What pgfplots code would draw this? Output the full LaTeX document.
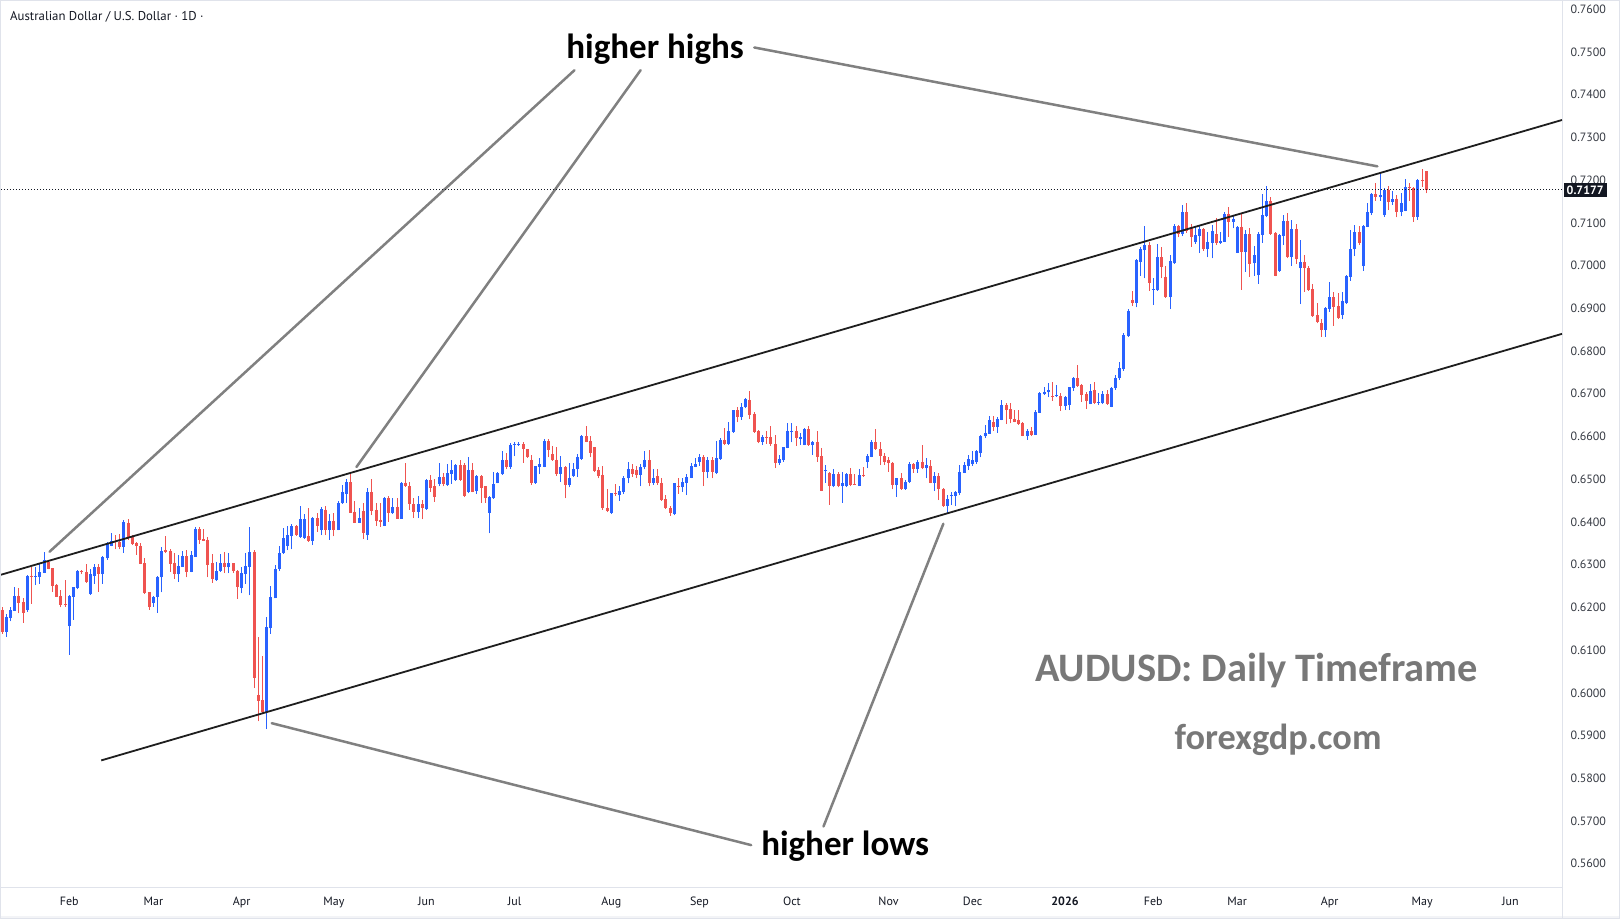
\documentclass[border=0pt]{standalone}
\usepackage{pgfplots}
\pgfplotsset{compat=1.18}
\usepackage{pgfplotstable}
\usepackage{fontspec}
\setmainfont{PT Sans}
\newfontfamily\calib{Carlito}
\definecolor{upc}{HTML}{2962FF}
\definecolor{dnc}{HTML}{EF5350}
\definecolor{annc}{HTML}{808080}
\definecolor{framec}{HTML}{E0E3EB}
\definecolor{txtc}{HTML}{131722}
\definecolor{wmc}{HTML}{787878}
\definecolor{trendc}{HTML}{1E1E1E}

\pgfplotstableread{
i o h l c
-16 0.6194 0.6200 0.6138 0.6143
-15 0.6143 0.6185 0.6131 0.6178
-14 0.6176 0.6202 0.6167 0.6194
-13 0.6192 0.6247 0.6192 0.6227
-12 0.6227 0.6245 0.6186 0.6211
-11 0.6213 0.6221 0.6164 0.6186
-10 0.6194 0.6275 0.6190 0.6273
-9 0.6274 0.6294 0.6208 0.6272
-8 0.6272 0.6294 0.6252 0.6274
-7 0.6272 0.6302 0.6255 0.6283
-6 0.6281 0.6330 0.6280 0.6311
-5 0.6307 0.6311 0.6289 0.6291
-4 0.6292 0.6293 0.6237 0.6251
-3 0.6253 0.6255 0.6224 0.6225
-2 0.6227 0.6241 0.6200 0.6206
-1 0.6207 0.6263 0.6202 0.6205
0 0.6156 0.6228 0.6089 0.6227
1 0.6225 0.6248 0.6171 0.6247
2 0.6245 0.6288 0.6242 0.6286
3 0.6286 0.6288 0.6278 0.6284
4 0.6283 0.6302 0.6258 0.6260
5 0.6231 0.6289 0.6230 0.6278
6 0.6273 0.6302 0.6255 0.6295
7 0.6295 0.6302 0.6236 0.6278
8 0.6278 0.6320 0.6255 0.6319
9 0.6315 0.6354 0.6311 0.6350
10 0.6344 0.6373 0.6343 0.6356
11 0.6356 0.6369 0.6336 0.6352
12 0.6354 0.6372 0.6336 0.6342
13 0.6342 0.6405 0.6328 0.6400
14 0.6398 0.6406 0.6358 0.6363
15 0.6366 0.6370 0.6346 0.6348
16 0.6350 0.6354 0.6323 0.6344
17 0.6344 0.6350 0.6301 0.6302
18 0.6303 0.6315 0.6231 0.6233
19 0.6236 0.6237 0.6194 0.6202
20 0.6210 0.6226 0.6202 0.6225
21 0.6224 0.6273 0.6188 0.6270
22 0.6270 0.6341 0.6235 0.6333
23 0.6334 0.6366 0.6327 0.6330
24 0.6332 0.6336 0.6283 0.6302
25 0.6305 0.6328 0.6266 0.6277
26 0.6277 0.6323 0.6260 0.6297
27 0.6295 0.6331 0.6294 0.6320
28 0.6320 0.6334 0.6270 0.6283
29 0.6283 0.6333 0.6282 0.6323
30 0.6319 0.6387 0.6318 0.6383
31 0.6383 0.6387 0.6348 0.6358
32 0.6359 0.6383 0.6355 0.6356
33 0.6358 0.6364 0.6270 0.6299
34 0.6303 0.6325 0.6258 0.6266
35 0.6263 0.6306 0.6262 0.6286
36 0.6285 0.6325 0.6283 0.6305
37 0.6305 0.6330 0.6280 0.6294
38 0.6294 0.6327 0.6280 0.6305
39 0.6303 0.6304 0.6280 0.6284
40 0.6286 0.6288 0.6220 0.6247
41 0.6245 0.6295 0.6233 0.6280
42 0.6278 0.6327 0.6255 0.6297
43 0.6295 0.6387 0.6228 0.6330
44 0.6330 0.6334 0.6011 0.6034
45 0.5995 0.6131 0.5933 0.5982
46 0.5983 0.6086 0.5953 0.5954
47 0.5954 0.6177 0.5915 0.6153
48 0.6151 0.6249 0.6138 0.6224
49 0.6221 0.6299 0.6221 0.6291
50 0.6291 0.6344 0.6285 0.6328
51 0.6328 0.6385 0.6326 0.6362
52 0.6344 0.6391 0.6334 0.6369
53 0.6367 0.6395 0.6336 0.6391
54 0.6391 0.6393 0.6368 0.6369
55 0.6364 0.6437 0.6363 0.6408
56 0.6362 0.6419 0.6361 0.6408
57 0.6366 0.6432 0.6354 0.6356
58 0.6356 0.6412 0.6346 0.6409
59 0.6409 0.6422 0.6377 0.6391
60 0.6381 0.6436 0.6369 0.6430
61 0.6429 0.6437 0.6369 0.6381
62 0.6381 0.6419 0.6358 0.6403
63 0.6403 0.6420 0.6366 0.6381
64 0.6381 0.6450 0.6380 0.6444
65 0.6444 0.6487 0.6443 0.6469
66 0.6465 0.6500 0.6444 0.6493
67 0.6493 0.6516 0.6421 0.6422
68 0.6424 0.6448 0.6397 0.6398
69 0.6398 0.6432 0.6397 0.6409
70 0.6426 0.6444 0.6359 0.6373
71 0.6369 0.6479 0.6358 0.6470
72 0.6470 0.6501 0.6416 0.6426
73 0.6428 0.6444 0.6391 0.6403
74 0.6405 0.6444 0.6389 0.6401
75 0.6391 0.6459 0.6390 0.6456
76 0.6456 0.6461 0.6401 0.6422
77 0.6422 0.6455 0.6419 0.6434
78 0.6436 0.6457 0.6407 0.6408
79 0.6408 0.6494 0.6407 0.6492
80 0.6492 0.6539 0.6482 0.6483
81 0.6484 0.6494 0.6428 0.6442
82 0.6442 0.6455 0.6409 0.6424
83 0.6424 0.6461 0.6409 0.6442
84 0.6442 0.6451 0.6406 0.6432
85 0.6430 0.6500 0.6429 0.6497
86 0.6497 0.6510 0.6470 0.6479
87 0.6483 0.6500 0.6447 0.6459
88 0.6489 0.6539 0.6483 0.6506
89 0.6506 0.6514 0.6483 0.6488
90 0.6486 0.6536 0.6485 0.6514
91 0.6512 0.6545 0.6489 0.6522
92 0.6498 0.6535 0.6496 0.6533
93 0.6533 0.6546 0.6496 0.6498
94 0.6533 0.6537 0.6458 0.6461
95 0.6471 0.6553 0.6467 0.6522
96 0.6522 0.6539 0.6469 0.6471
97 0.6473 0.6510 0.6465 0.6508
98 0.6508 0.6510 0.6445 0.6479
99 0.6483 0.6484 0.6445 0.6455
100 0.6422 0.6460 0.6373 0.6459
101 0.6455 0.6518 0.6454 0.6489
102 0.6491 0.6518 0.6490 0.6514
103 0.6512 0.6565 0.6511 0.6545
104 0.6545 0.6562 0.6523 0.6528
105 0.6529 0.6584 0.6525 0.6580
106 0.6581 0.6588 0.6554 0.6583
107 0.6581 0.6588 0.6578 0.6583
108 0.6582 0.6586 0.6539 0.6570
109 0.6570 0.6571 0.6550 0.6553
110 0.6545 0.6557 0.6487 0.6490
111 0.6490 0.6532 0.6489 0.6531
112 0.6529 0.6549 0.6512 0.6536
113 0.6529 0.6593 0.6528 0.6589
114 0.6589 0.6593 0.6551 0.6568
115 0.6559 0.6578 0.6543 0.6544
116 0.6545 0.6575 0.6508 0.6512
117 0.6512 0.6554 0.6494 0.6528
118 0.6529 0.6530 0.6455 0.6487
119 0.6487 0.6537 0.6481 0.6502
120 0.6508 0.6537 0.6506 0.6523
121 0.6523 0.6559 0.6506 0.6551
122 0.6547 0.6604 0.6545 0.6601
123 0.6601 0.6625 0.6586 0.6588
124 0.6590 0.6601 0.6551 0.6562
125 0.6575 0.6576 0.6518 0.6520
126 0.6522 0.6528 0.6502 0.6508
127 0.6510 0.6530 0.6428 0.6432
128 0.6432 0.6476 0.6423 0.6425
129 0.6422 0.6468 0.6419 0.6467
130 0.6467 0.6489 0.6461 0.6465
131 0.6463 0.6483 0.6450 0.6473
132 0.6471 0.6508 0.6465 0.6502
133 0.6502 0.6541 0.6490 0.6523
134 0.6523 0.6536 0.6506 0.6512
135 0.6522 0.6531 0.6502 0.6510
136 0.6510 0.6536 0.6483 0.6528
137 0.6528 0.6567 0.6523 0.6545
138 0.6545 0.6568 0.6483 0.6492
139 0.6492 0.6523 0.6487 0.6504
140 0.6508 0.6523 0.6487 0.6490
141 0.6490 0.6502 0.6450 0.6451
142 0.6453 0.6463 0.6430 0.6432
143 0.6433 0.6437 0.6414 0.6420
144 0.6419 0.6492 0.6416 0.6490
145 0.6485 0.6504 0.6466 0.6481
146 0.6481 0.6504 0.6471 0.6494
147 0.6492 0.6512 0.6463 0.6506
148 0.6504 0.6537 0.6502 0.6531
149 0.6529 0.6549 0.6528 0.6536
150 0.6541 0.6559 0.6531 0.6551
151 0.6551 0.6557 0.6484 0.6518
152 0.6518 0.6551 0.6502 0.6544
153 0.6544 0.6551 0.6502 0.6518
154 0.6514 0.6590 0.6512 0.6549
155 0.6547 0.6596 0.6545 0.6592
156 0.6592 0.6619 0.6580 0.6583
157 0.6583 0.6635 0.6580 0.6613
158 0.6611 0.6662 0.6609 0.6661
159 0.6661 0.6668 0.6633 0.6645
160 0.6645 0.6678 0.6639 0.6670
161 0.6668 0.6689 0.6666 0.6687
162 0.6686 0.6707 0.6640 0.6650
163 0.6653 0.6658 0.6609 0.6611
164 0.6614 0.6615 0.6584 0.6588
165 0.6588 0.6604 0.6580 0.6598
166 0.6599 0.6614 0.6583 0.6597
167 0.6598 0.6625 0.6578 0.6583
168 0.6583 0.6604 0.6526 0.6539
169 0.6539 0.6557 0.6533 0.6547
170 0.6544 0.6576 0.6541 0.6575
171 0.6573 0.6631 0.6572 0.6613
172 0.6611 0.6631 0.6586 0.6613
173 0.6613 0.6625 0.6578 0.6596
174 0.6594 0.6609 0.6580 0.6598
175 0.6580 0.6619 0.6579 0.6617
176 0.6617 0.6625 0.6578 0.6580
177 0.6580 0.6590 0.6557 0.6588
178 0.6588 0.6614 0.6541 0.6553
179 0.6554 0.6572 0.6472 0.6473
180 0.6519 0.6533 0.6492 0.6521
181 0.6514 0.6516 0.6440 0.6483
182 0.6483 0.6523 0.6481 0.6512
183 0.6512 0.6518 0.6481 0.6483
184 0.6483 0.6518 0.6445 0.6490
185 0.6483 0.6514 0.6481 0.6512
186 0.6512 0.6526 0.6483 0.6487
187 0.6489 0.6512 0.6486 0.6487
188 0.6484 0.6523 0.6484 0.6510
189 0.6510 0.6528 0.6506 0.6508
190 0.6541 0.6559 0.6526 0.6554
191 0.6553 0.6592 0.6551 0.6586
192 0.6586 0.6617 0.6569 0.6570
193 0.6570 0.6586 0.6533 0.6554
194 0.6554 0.6561 0.6533 0.6541
195 0.6545 0.6551 0.6518 0.6537
196 0.6539 0.6540 0.6476 0.6487
197 0.6487 0.6504 0.6459 0.6502
198 0.6502 0.6514 0.6475 0.6476
199 0.6476 0.6497 0.6475 0.6494
200 0.6494 0.6541 0.6492 0.6536
201 0.6536 0.6537 0.6515 0.6523
202 0.6523 0.6544 0.6515 0.6540
203 0.6540 0.6580 0.6523 0.6526
204 0.6526 0.6549 0.6502 0.6533
205 0.6531 0.6544 0.6490 0.6492
206 0.6492 0.6518 0.6473 0.6508
207 0.6508 0.6514 0.6451 0.6476
208 0.6478 0.6479 0.6436 0.6437
209 0.6437 0.6463 0.6420 0.6453
210 0.6462 0.6469 0.6440 0.6464
211 0.6461 0.6473 0.6437 0.6471
212 0.6467 0.6533 0.6463 0.6518
213 0.6515 0.6541 0.6514 0.6533
214 0.6531 0.6557 0.6522 0.6547
215 0.6536 0.6567 0.6531 0.6544
216 0.6541 0.6568 0.6536 0.6565
217 0.6561 0.6604 0.6551 0.6601
218 0.6600 0.6627 0.6596 0.6609
219 0.6607 0.6648 0.6606 0.6639
220 0.6633 0.6648 0.6614 0.6622
221 0.6622 0.6646 0.6609 0.6640
222 0.6639 0.6685 0.6638 0.6674
223 0.6674 0.6678 0.6629 0.6662
224 0.6664 0.6678 0.6631 0.6640
225 0.6640 0.6661 0.6633 0.6635
226 0.6639 0.6661 0.6627 0.6629
227 0.6631 0.6633 0.6600 0.6601
228 0.6601 0.6617 0.6592 0.6613
229 0.6612 0.6623 0.6601 0.6604
230 0.6604 0.6661 0.6603 0.6658
231 0.6656 0.6705 0.6655 0.6702
232 0.6700 0.6717 0.6698 0.6705
233 0.6703 0.6726 0.6692 0.6710
234 0.6695 0.6728 0.6684 0.6692
235 0.6694 0.6721 0.6692 0.6697
236 0.6695 0.6701 0.6660 0.6671
237 0.6671 0.6694 0.6662 0.6693
238 0.6674 0.6717 0.6662 0.6715
239 0.6713 0.6740 0.6707 0.6736
240 0.6736 0.6767 0.6717 0.6718
241 0.6720 0.6723 0.6681 0.6697
242 0.6699 0.6705 0.6664 0.6684
243 0.6676 0.6723 0.6675 0.6707
244 0.6709 0.6728 0.6676 0.6679
245 0.6679 0.6701 0.6674 0.6681
246 0.6679 0.6707 0.6676 0.6699
247 0.6699 0.6709 0.6674 0.6676
248 0.6670 0.6717 0.6668 0.6713
249 0.6713 0.6744 0.6710 0.6736
250 0.6736 0.6775 0.6732 0.6760
251 0.6757 0.6843 0.6754 0.6838
252 0.6835 0.6898 0.6834 0.6894
253 0.6920 0.6941 0.6905 0.6913
254 0.6913 0.7015 0.6902 0.7012
255 0.7009 0.7043 0.6976 0.7039
256 0.7036 0.7093 0.6970 0.7048
257 0.7048 0.7056 0.6941 0.6960
258 0.6943 0.6970 0.6908 0.6946
259 0.6943 0.7051 0.6941 0.7019
260 0.7019 0.7043 0.6970 0.6996
261 0.6974 0.6999 0.6925 0.6926
262 0.6926 0.7025 0.6898 0.7011
263 0.7005 0.7097 0.7004 0.7093
264 0.7093 0.7094 0.7066 0.7074
265 0.7074 0.7142 0.7069 0.7125
266 0.7125 0.7146 0.7077 0.7082
267 0.7091 0.7097 0.7044 0.7068
268 0.7056 0.7093 0.7051 0.7072
269 0.7069 0.7093 0.7029 0.7085
270 0.7085 0.7087 0.7035 0.7038
271 0.7040 0.7079 0.7019 0.7056
272 0.7054 0.7095 0.7017 0.7082
273 0.7074 0.7111 0.7048 0.7054
274 0.7054 0.7079 0.7051 0.7057
275 0.7056 0.7126 0.7055 0.7121
276 0.7121 0.7138 0.7068 0.7103
277 0.7103 0.7118 0.7087 0.7108
278 0.7030 0.7092 0.7029 0.7091
279 0.7091 0.7124 0.6943 0.7033
280 0.7033 0.7083 0.6986 0.7074
281 0.7074 0.7087 0.6974 0.7004
282 0.7005 0.7046 0.6976 0.7025
283 0.6978 0.7079 0.6957 0.7074
284 0.7072 0.7168 0.7054 0.7118
285 0.7116 0.7186 0.7113 0.7152
286 0.7152 0.7160 0.7072 0.7074
287 0.7077 0.7078 0.6975 0.6976
288 0.6988 0.7074 0.6986 0.7072
289 0.7069 0.7118 0.7048 0.7104
290 0.7104 0.7124 0.7017 0.7021
291 0.7021 0.7107 0.6999 0.7086
292 0.7086 0.7097 0.7004 0.7015
293 0.6994 0.7061 0.6910 0.7009
294 0.7009 0.7025 0.6939 0.6994
295 0.6994 0.6999 0.6941 0.6943
296 0.6945 0.6957 0.6880 0.6882
297 0.6884 0.6912 0.6865 0.6869
298 0.6866 0.6874 0.6834 0.6849
299 0.6849 0.6904 0.6834 0.6900
300 0.6898 0.6962 0.6892 0.6927
301 0.6927 0.6939 0.6859 0.6904
302 0.6905 0.6935 0.6876 0.6877
303 0.6884 0.6939 0.6874 0.6916
304 0.6912 0.6978 0.6910 0.6976
305 0.6974 0.7083 0.6965 0.7040
306 0.7038 0.7095 0.7022 0.7079
307 0.7079 0.7093 0.7048 0.7052
308 0.6999 0.7095 0.6988 0.7093
309 0.7091 0.7147 0.7090 0.7126
310 0.7124 0.7169 0.7118 0.7168
311 0.7168 0.7194 0.7152 0.7160
312 0.7160 0.7220 0.7152 0.7165
313 0.7118 0.7181 0.7114 0.7177
314 0.7177 0.7186 0.7130 0.7150
315 0.7150 0.7175 0.7142 0.7157
316 0.7157 0.7165 0.7113 0.7126
317 0.7126 0.7169 0.7115 0.7147
318 0.7128 0.7202 0.7127 0.7183
319 0.7183 0.7193 0.7152 0.7181
320 0.7181 0.7183 0.7103 0.7114
321 0.7114 0.7202 0.7107 0.7200
322 0.7200 0.7225 0.7185 0.7197
323 0.7221 0.7222 0.7169 0.7177
}\candles

\begin{document}
\begin{tikzpicture}[x=1pt,y=1pt]
\useasboundingbox (0,0) rectangle (1620,919);
\fill[white] (0,0) rectangle (1620,919);
\fill[framec!40] (0,0) rectangle (1620,3);
\begin{axis}[
  at={(1pt,32pt)}, anchor=south west, scale only axis,
  width=1561pt, height=886pt,
  xmin=-16.26, xmax=355.3, ymin=0.554546, ymax=0.761943,
  axis line style={draw=framec, line width=1pt},
  xtick={0,20,41,63,85,106,129,150,172,195,215,237,258,278,300,322,343},
  xticklabels={Feb,Mar,Apr,May,Jun,Jul,Aug,Sep,Oct,Nov,Dec,\textbf{2026},Feb,Mar,Apr,May,Jun},
  ytick={0.56,0.57,0.58,0.59,0.60,0.61,0.62,0.63,0.64,0.65,0.66,0.67,0.68,0.69,0.70,0.71,0.72,0.73,0.74,0.75,0.76},
  yticklabel pos=right,
  scaled y ticks=false,
  major tick length=0pt,
  tick style={draw=none},
  x tick label style={font=\fontsize{12}{14}\selectfont, text=txtc, anchor=base, yshift=-18pt, inner sep=0pt},
  y tick label style={font=\fontsize{12}{14}\selectfont, text=txtc!85, anchor=west, xshift=8.5pt, inner sep=0pt,
    /pgf/number format/fixed, /pgf/number format/fixed zerofill, /pgf/number format/precision=4,
    /pgf/number format/assume math mode=true},
  clip=true,
]
% wicks
\addplot[upc, line width=1pt, quiver={u=0, v=\thisrow{h}-\thisrow{l}},
  restrict expr to domain={\thisrow{c}-\thisrow{o}}{0:1}] table[x=i, y=l] {\candles};
\addplot[dnc, line width=1pt, quiver={u=0, v=\thisrow{h}-\thisrow{l}},
  restrict expr to domain={\thisrow{c}-\thisrow{o}}{-1:0}] table[x=i, y=l] {\candles};
% bodies
\addplot[upc, line width=3pt, quiver={u=0, v=\thisrow{c}-\thisrow{o}},
  restrict expr to domain={\thisrow{c}-\thisrow{o}}{0:1}] table[x=i, y=o] {\candles};
\addplot[dnc, line width=3pt, quiver={u=0, v=\thisrow{c}-\thisrow{o}},
  restrict expr to domain={\thisrow{c}-\thisrow{o}}{-1:0}] table[x=i, y=o] {\candles};

% channel lines
\addplot[trendc, line width=1.8pt] coordinates {(-16.26,0.62764) (355.3,0.73409)};
\addplot[trendc, line width=1.8pt] coordinates {(7.6,0.58418) (355.3,0.68403)};

% annotation lines
\addplot[annc, line width=2.5pt, line cap=round] coordinates {(-4.69,0.63304) (120.24,0.74574)};
\addplot[annc, line width=2.5pt, line cap=round] coordinates {(68.35,0.65287) (135.98,0.74574)};
\addplot[annc, line width=2.5pt, line cap=round] coordinates {(163.04,0.75106) (311.34,0.72324)};
\addplot[annc, line width=2.5pt, line cap=round] coordinates {(48.18,0.59289) (162.30,0.56435)};
\addplot[annc, line width=2.5pt, line cap=round] coordinates {(208.04,0.63957) (179.51,0.56871)};

% last price line
\addplot[txtc, line width=1pt, dash pattern=on 1pt off 2pt] coordinates {(-16.26,0.7177) (355.3,0.7177)};
\coordinate (lastp) at (axis cs:355.3,0.7177);

\node[font=\calib\bfseries\fontsize{35}{40}\selectfont, text=black] at (axis cs:139.43,0.7506) {higher highs};
\node[font=\calib\bfseries\fontsize{35}{40}\selectfont, text=black] at (axis cs:184.68,0.5641) {higher lows};
\node[font=\calib\bfseries\fontsize{40.4}{46}\selectfont, text=wmc] at (axis cs:282.56,0.6052) {AUDUSD: Daily Timeframe};
\node[font=\calib\bfseries\fontsize{36.3}{42}\selectfont, text=wmc] at (axis cs:287.73,0.5890) {forexgdp.com};
\end{axis}
\draw[framec, line width=1pt] (1562,0) -- (1562,32);
\draw[framec, line width=1pt] (0.5,0.5) rectangle (1619.5,918.5);
\node[anchor=west, fill=txtc, text=white, font=\bfseries\fontsize{12}{14}\selectfont,
  inner xsep=3pt, inner ysep=0pt, minimum height=14pt] at ([xshift=1.5pt]lastp) {0.7177};
\node[anchor=west, text=txtc, font=\fontsize{12.8}{15}\selectfont, inner sep=0pt] at (10,902.5) {Australian Dollar / U.S. Dollar · 1D ·};
\end{tikzpicture}
\end{document}
